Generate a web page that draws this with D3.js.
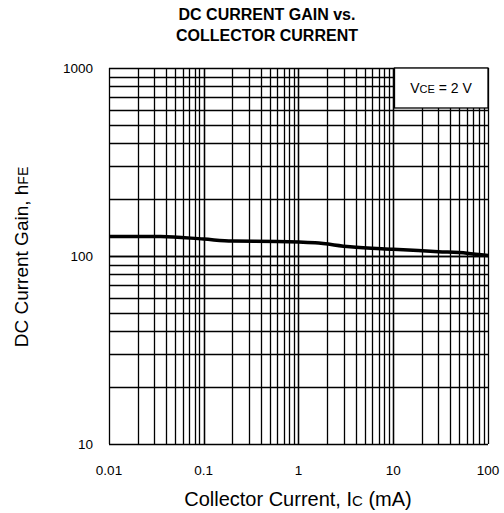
<!DOCTYPE html>
<html>
<head>
<meta charset="utf-8">
<script src="https://cdn.jsdelivr.net/npm/d3@7"></script>
<style>
body{margin:0;background:#fff}
text{font-family:"Liberation Sans",Arial,sans-serif}
</style>
</head>
<body>
<svg id="chart" width="504" height="513"></svg>
<script>
var currentMA = [0.01, 0.035, 0.1, 0.2, 0.6, 1.5, 3.5, 10, 30, 60, 100]
var gain      = [127, 127, 123, 120, 119.5, 117.5, 112, 108.5, 105.5, 103.5, 100.5]
var xTicks = [0.01, 0.1, 1, 10, 100]
var yTicks = [10, 100, 1000]

var svg = d3.select("#chart")
var x = d3.scaleLog().domain([0.01, 100]).range([109, 488])
var y = d3.scaleLog().domain([10, 1000]).range([444, 68])

// minor + major grid
var xGrid = [], yGrid = []
;[0.01, 0.1, 1, 10].forEach(d => { for (var k = 1; k <= 10; k++) xGrid.push(d*k) })
;[10, 100].forEach(d => { for (var k = 1; k <= 10; k++) yGrid.push(d*k) })

svg.selectAll(".vg").data(xGrid).enter().append("line")
  .attr("x1", d => Math.round(x(d)) + 0.5).attr("x2", d => Math.round(x(d)) + 0.5)
  .attr("y1", y(1000)).attr("y2", y(10))
  .attr("stroke", "black").attr("stroke-width", 1.3)

svg.selectAll(".hg").data(yGrid).enter().append("line")
  .attr("y1", d => Math.round(y(d)) + 0.5).attr("y2", d => Math.round(y(d)) + 0.5)
  .attr("x1", x(0.01)).attr("x2", x(100))
  .attr("stroke", "black").attr("stroke-width", 1.3)

// condition box
svg.append("rect")
  .attr("x", 394.5).attr("y", y(1000)).attr("width", x(100) - 394.5).attr("height", 40)
  .attr("fill", "white").attr("stroke", "black").attr("stroke-width", 1.3)

var lbl = svg.append("text").attr("x", 441).attr("y", 93).attr("text-anchor", "middle")
  .attr("font-size", 14)
lbl.append("tspan").text("V")
lbl.append("tspan").attr("font-size", 11).text("CE")
lbl.append("tspan").text(" = 2 V")

// curve
svg.append("path")
  .datum(currentMA.map((d, i) => [d, gain[i]]))
  .attr("fill", "none").attr("stroke", "black").attr("stroke-width", 3.5)
  .attr("d", d3.line().x(d => x(d[0])).y(d => y(d[1])).curve(d3.curveMonotoneX))

// tick labels
svg.selectAll(".xt").data(xTicks).enter().append("text")
  .text(d => d).attr("x", d => x(d)).attr("y", 475)
  .attr("text-anchor", "middle").attr("font-size", 13.5)

svg.selectAll(".yt").data(yTicks).enter().append("text")
  .text(d => d).attr("x", 93).attr("y", d => y(d) + 5)
  .attr("text-anchor", "end").attr("font-size", 13.5)

// titles
svg.append("text").attr("x", 267).attr("y", 20).attr("text-anchor", "middle")
  .attr("font-size", 16).attr("font-weight", "bold").text("DC CURRENT GAIN vs.")
svg.append("text").attr("x", 267).attr("y", 41).attr("text-anchor", "middle")
  .attr("font-size", 16).attr("font-weight", "bold").text("COLLECTOR CURRENT")

var xl = svg.append("text").attr("x", 298).attr("y", 506).attr("text-anchor", "middle")
  .attr("font-size", 20)
xl.append("tspan").text("Collector Current, I")
xl.append("tspan").attr("font-size", 15).text("C")
xl.append("tspan").text(" (mA)")

var yl = svg.append("text").attr("transform", "translate(28,257) rotate(-90)")
  .attr("text-anchor", "middle").attr("font-size", 19)
yl.append("tspan").text("DC Current Gain, h")
yl.append("tspan").attr("font-size", 14).text("FE")
</script>
</body>
</html>
